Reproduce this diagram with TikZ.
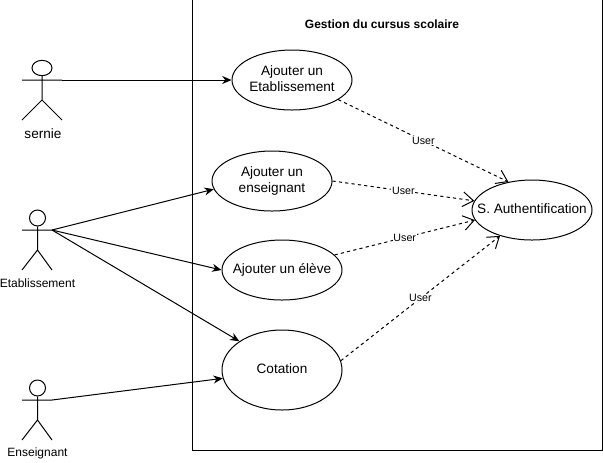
\documentclass[tikz,border=0pt]{standalone}
\usepackage{fontspec}
\setmainfont{Liberation Sans}
\usetikzlibrary{arrows.meta,positioning,shapes.geometric}
\newcommand{\uctext}[1]{\makebox[0pt]{\raisebox{-1pt}{\begin{tabular}{@{}c@{}}#1\end{tabular}}}}
\tikzset{
  usecase/.style={draw=black,ellipse,inner sep=0pt,minimum width=90pt,
    minimum height=45pt,font=\fontsize{10.2}{12.5}\selectfont},
  acthead/.style={draw=black,ellipse,inner sep=0pt},
  actlabel/.style={font=\fontsize{9}{11}\selectfont,inner sep=0pt},
  assoc/.style={-{Stealth[length=7pt,width=6pt]},black},
  depend/.style={-{Straight Barb[length=8pt,width=11pt]},black,
    dash pattern=on 2.4pt off 2.4pt},
  deplabel/.style={midway,fill=white,inner sep=0.5pt,
    font=\fontsize{8}{10}\selectfont}
}
\begin{document}
\begin{tikzpicture}[x=0.75pt,y=-0.75pt,line width=0.75pt]
  \useasboundingbox (0,0) rectangle (603,462);
  % System boundary
  \node[draw=black,minimum width=307.5pt,minimum height=339pt,inner sep=0pt]
    (Sys) at (397,224.5) {};
  \node[font=\bfseries\fontsize{9}{11}\selectfont,inner sep=0pt]
    (Title) at (382,24) {Gestion du cursus scolaire};
  % Use cases
  \node[usecase] (UEtab) at (292,80) {\uctext{Ajouter un\\Etablissement}};
  \node[usecase] (UEns) at (272,181) {\uctext{Ajouter un\\enseignant}};
  \node[usecase] (UEleve) at (282,270) {\uctext{Ajouter un élève}};
  \node[usecase,minimum height=60pt] (UCot) at (282,370) {\uctext{Cotation}};
  \node[usecase] (UAuth) at (532,210) {\uctext{S. Authentification}};
  % Actor sernie
  \node[acthead,minimum width=15pt,minimum height=11.5pt] (H1) at (42,68) {};
  \coordinate (A1L) at (22,80);
  \coordinate (A1R) at (62,80);
  \coordinate (B1) at (42,100);
  \coordinate (F1L) at (22,120);
  \coordinate (F1R) at (62,120);
  \draw (H1)--(B1) (A1L)--(A1R) (F1L)--(B1)--(F1R);
  \node[actlabel,font=\fontsize{10.2}{12}\selectfont] (L1) at (43,134) {sernie};
  % Actor Etablissement
  \node[acthead,minimum size=12pt] (H2) at (37.5,218) {};
  \coordinate (A2L) at (22,230);
  \coordinate (A2R) at (52,230);
  \coordinate (B2) at (37.5,250);
  \coordinate (F2L) at (22,270);
  \coordinate (F2R) at (52,270);
  \draw (H2)--(B2) (A2L)--(A2R) (F2L)--(B2)--(F2R);
  \node[actlabel] (L2) at (37.5,283) {Etablissement};
  % Actor Enseignant
  \node[acthead,minimum size=12pt] (H3) at (37.5,388) {};
  \coordinate (A3L) at (22,400);
  \coordinate (A3R) at (52,400);
  \coordinate (B3) at (37.5,420);
  \coordinate (F3L) at (22,440);
  \coordinate (F3R) at (52,440);
  \draw (H3)--(B3) (A3L)--(A3R) (F3L)--(B3)--(F3R);
  \node[actlabel] (L3) at (37.5,453) {Enseignant};
  % Associations
  \draw[assoc] (A1R)--(UEtab.west);
  \draw[assoc] (A2R)--(UEns.188);
  \draw[assoc] (A2R)--(UEleve.west);
  \draw[assoc] (A2R)--(UCot.146);
  \draw[assoc] (A3R)--(UCot.188);
  % Dependencies
  \draw[depend] (UEtab.-23)--(UAuth.130) node[deplabel] {User};
  \draw[depend] (UEns.east)--(UAuth.171) node[deplabel] {User};
  \draw[depend] (UEleve.16)--(UAuth.190) node[deplabel] {User};
  \draw[depend] (UCot.9)--(UAuth.219) node[deplabel] {User};
\end{tikzpicture}
\end{document}
